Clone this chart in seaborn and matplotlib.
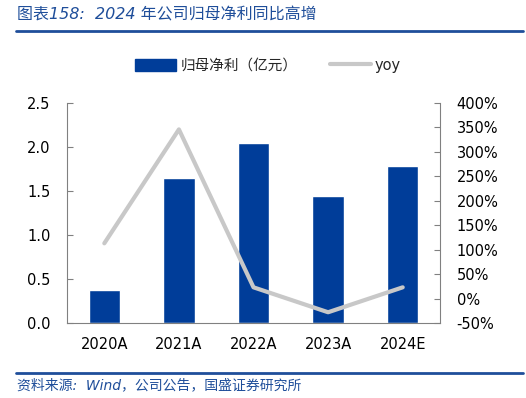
import matplotlib
matplotlib.use('Agg')
import matplotlib.pyplot as plt
import seaborn as sns
import pandas as pd
from matplotlib.ticker import FuncFormatter
from matplotlib.lines import Line2D
from matplotlib.patches import Patch

years = ['2020A', '2021A', '2022A', '2023A', '2024E']
profit = [0.38, 1.65, 2.04, 1.44, 1.78]
yoy = [113, 346, 23, -28, 23]

sns.set_style('white')
plt.rcParams['font.family'] = ['DejaVu Sans', 'Noto Sans CJK SC']
plt.rcParams['axes.unicode_minus'] = False

df = pd.DataFrame({'year': years, 'profit': profit, 'yoy': yoy})

fig = plt.figure(figsize=(5.26, 3.98), dpi=100)
ax = fig.add_axes([0.1274, 0.1884, 0.7091, 0.5528])

sns.barplot(data=df, x='year', y='profit', color='#003D99', saturation=1,
            width=0.42, ax=ax)
ax.set_ylim(0, 2.5)
ax.set_yticks([0, 0.5, 1.0, 1.5, 2.0, 2.5])
ax.yaxis.set_major_formatter(FuncFormatter(lambda v, p: f'{v:.1f}'))
ax.set_xlabel('')
ax.set_ylabel('')

ax2 = ax.twinx()
sns.lineplot(x=range(len(years)), y=df['yoy'], color='#C8C8C8', lw=3, ax=ax2)
ax2.set_ylim(-50, 400)
ax2.set_yticks(range(-50, 401, 50))
ax2.yaxis.set_major_formatter(FuncFormatter(lambda v, p: f'{int(v)}%'))
ax2.set_ylabel('')
ax.set_xlim(-0.5, 4.5)

for a in (ax, ax2):
    for s in a.spines.values():
        s.set_visible(False)
    a.tick_params(labelsize=10.5, colors='black', length=4, color='#808080', width=0.8)
ax.spines['left'].set_visible(True)
ax.spines['bottom'].set_visible(True)
ax2.spines['right'].set_visible(True)
for s in (ax.spines['left'], ax.spines['bottom'], ax2.spines['right']):
    s.set_color('#808080')
    s.set_linewidth(0.8)
ax.tick_params(axis='x', length=0, pad=10)
ax2.tick_params(axis='y', direction='in', right=True, pad=12)
ax.tick_params(axis='y', direction='in', left=True, pad=12)

handles = [Patch(color='#003D99'), Line2D([], [], color='#C8C8C8', lw=3)]
fig.legend(handles, ['归母净利（亿元）', 'yoy'], loc='center', bbox_to_anchor=(0.51, 0.836),
           ncol=2, frameon=False, fontsize=10.5, handlelength=2.8, handleheight=0.9,
           columnspacing=2.2, handletextpad=0.3)

blue = '#1F4E9A'
fig.text(0.032, 0.962, '图表158:  2024 年公司归母净利同比高增', color=blue, fontsize=11.5,
         style='italic', va='center', ha='left')
fig.add_artist(Line2D([0.03, 0.995], [0.922, 0.922], color=blue, lw=2))
fig.add_artist(Line2D([0.03, 0.995], [0.063, 0.063], color=blue, lw=2))
fig.text(0.032, 0.032, '资料来源:  Wind，公司公告，国盛证券研究所', color=blue, fontsize=10,
         style='italic', va='center', ha='left')

fig.savefig('out.png', dpi=100)
